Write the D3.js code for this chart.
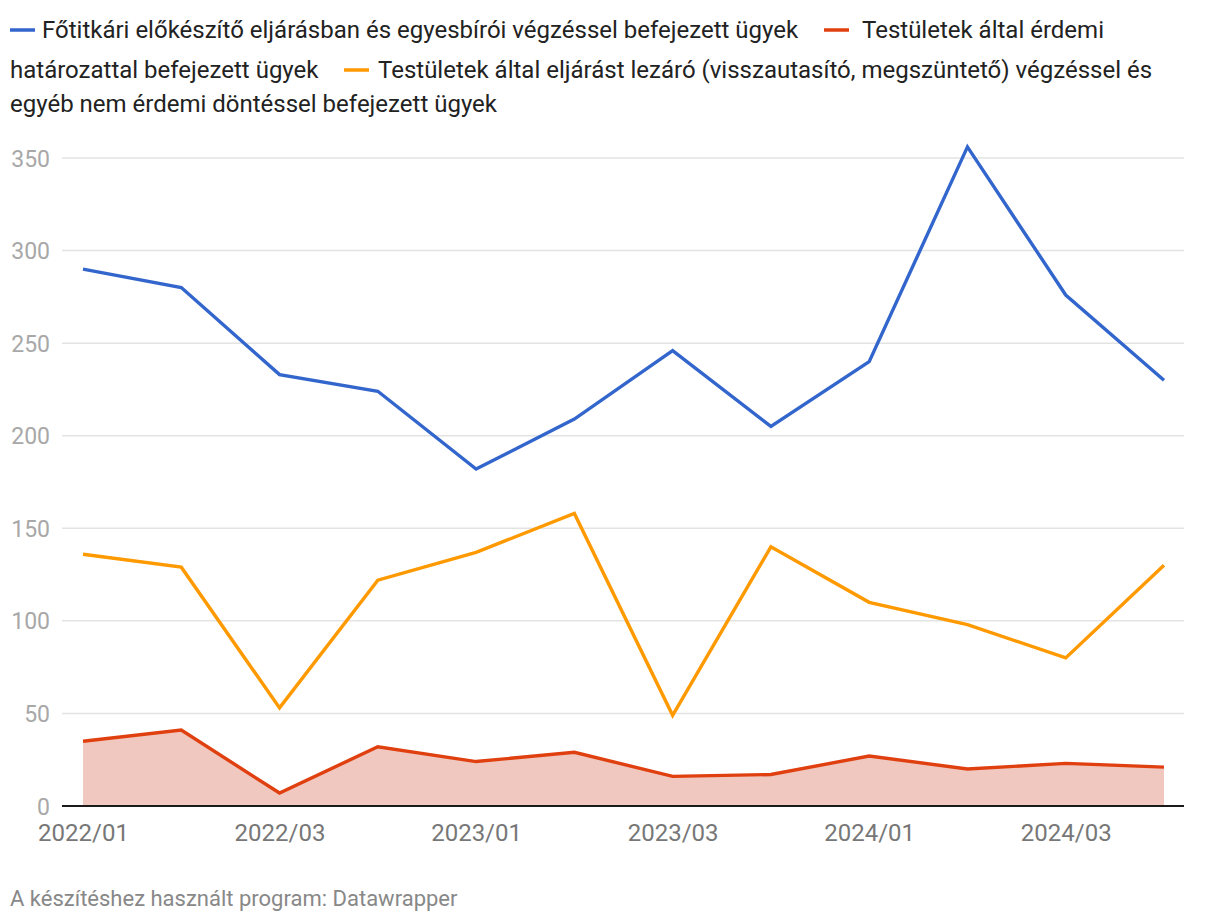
<!DOCTYPE html>
<html lang="hu">
<head>
    <meta charset="UTF-8">
    <title>Ügyek</title>
    <script src="https://cdnjs.cloudflare.com/ajax/libs/d3/7.8.5/d3.min.js"></script>
    <style>
        body { margin: 0; background: #fff; font-family: Roboto, "Noto Sans", sans-serif; }
    </style>
</head>
<body>
    <div id="chart"></div>
    <script>
        // Data
        var categories = ["2022/01", "2022/02", "2022/03", "2022/04",
                          "2023/01", "2023/02", "2023/03", "2023/04",
                          "2024/01", "2024/02", "2024/03", "2024/04"];
        var tickLabels = ["2022/01", "2022/03", "2023/01", "2023/03", "2024/01", "2024/03"];
        var yTicks = [0, 50, 100, 150, 200, 250, 300, 350];

        var fotitkari = [290, 280, 233, 224, 182, 209, 246, 205, 240, 356, 276, 230];
        var erdemi = [35, 41, 7, 32, 24, 29, 16, 17, 27, 20, 23, 21];
        var lezaro = [136, 129, 53, 122, 137, 158, 49, 140, 110, 98, 80, 130];

        var seriesNames = [
            "Főtitkári előkészítő eljárásban és egyesbírói végzéssel befejezett ügyek",
            "Testületek által érdemi határozattal befejezett ügyek",
            "Testületek által eljárást lezáró (visszautasító, megszüntető) végzéssel és egyéb nem érdemi döntéssel befejezett ügyek"
        ];
        var colors = ["#3366cc", "#e0400f", "#ff9900"];

        var w = 1220, h = 924;
        var svg = d3.select("#chart").append("svg")
            .attr("width", w).attr("height", h);

        var x = d3.scalePoint().domain(categories).range([83, 1164]);
        var y = d3.scaleLinear().domain([0, 350]).range([806, 158]);

        // gridlines + y labels
        var yAxis = d3.axisLeft(y).tickValues(yTicks).tickSize(0).tickPadding(0);
        var gy = svg.append("g").attr("transform", "translate(50,0)").call(yAxis);
        gy.select(".domain").remove();
        gy.selectAll("text")
            .attr("x", 0)
            .attr("dy", "0.35em")
            .attr("font-family", "Roboto, sans-serif")
            .attr("font-size", "23px")
            .attr("fill", "#a8a8a8");

        svg.append("g").selectAll("line")
            .data(yTicks.filter(function(d) { return d > 0; }))
            .enter().append("line")
            .attr("x1", 62).attr("x2", 1184)
            .attr("y1", function(d) { return y(d); })
            .attr("y2", function(d) { return y(d); })
            .attr("stroke", "#e3e3e3")
            .attr("stroke-width", 1.5);

        // area under red line
        var area = d3.area()
            .x(function(d, i) { return x(categories[i]); })
            .y0(y(0))
            .y1(function(d) { return y(d); });
        svg.append("path")
            .datum(erdemi)
            .attr("d", area)
            .attr("fill", "#f0c8c0");

        // baseline
        svg.append("line")
            .attr("x1", 62).attr("x2", 1184)
            .attr("y1", y(0)).attr("y2", y(0))
            .attr("stroke", "#1a1a1a").attr("stroke-width", 2);

        // x axis
        var xAxis = d3.axisBottom(x)
            .tickValues(tickLabels).tickSize(0).tickPadding(0);
        var gx = svg.append("g").attr("transform", "translate(0," + y(0) + ")").call(xAxis);
        gx.select(".domain").remove();
        gx.selectAll("text")
            .attr("y", 35)
            .attr("dy", 0)
            .attr("font-family", "Roboto, sans-serif")
            .attr("font-size", "24px")
            .attr("fill", "#777");

        // lines
        var line = d3.line()
            .x(function(d, i) { return x(categories[i]); })
            .y(function(d) { return y(d); });

        [fotitkari, lezaro, erdemi].forEach(function(s) {
            var c = s === fotitkari ? colors[0] : (s === erdemi ? colors[1] : colors[2]);
            svg.append("path")
                .datum(s)
                .attr("d", line)
                .attr("fill", "none")
                .attr("stroke", c)
                .attr("stroke-width", 3.4)
                .attr("stroke-linejoin", "miter");
        });

        // legend (wrapped like the original)
        var legend = svg.append("g")
            .attr("font-family", "Roboto, sans-serif")
            .attr("font-size", "24px")
            .attr("fill", "#222");

        function swatch(x0, yc, color) {
            legend.append("line")
                .attr("x1", x0).attr("x2", x0 + 25)
                .attr("y1", yc).attr("y2", yc)
                .attr("stroke", color).attr("stroke-width", 3.5);
        }
        swatch(10, 30, colors[0]);
        legend.append("text").attr("x", 42).attr("y", 38).text(seriesNames[0]);

        swatch(824, 30, colors[1]);
        legend.append("text").attr("x", 862).attr("y", 38).text("Testületek által érdemi");
        legend.append("text").attr("x", 10).attr("y", 78).text("határozattal befejezett ügyek");

        swatch(344, 70, colors[2]);
        legend.append("text").attr("x", 378).attr("y", 78)
            .text("Testületek által eljárást lezáró (visszautasító, megszüntető) végzéssel és");
        legend.append("text").attr("x", 10).attr("y", 112)
            .text("egyéb nem érdemi döntéssel befejezett ügyek");

        // footer
        svg.append("text")
            .attr("x", 10).attr("y", 906)
            .attr("font-family", "Roboto, sans-serif")
            .attr("font-size", "22px")
            .attr("fill", "#888")
            .text("A készítéshez használt program: Datawrapper");
    </script>
</body>
</html>
